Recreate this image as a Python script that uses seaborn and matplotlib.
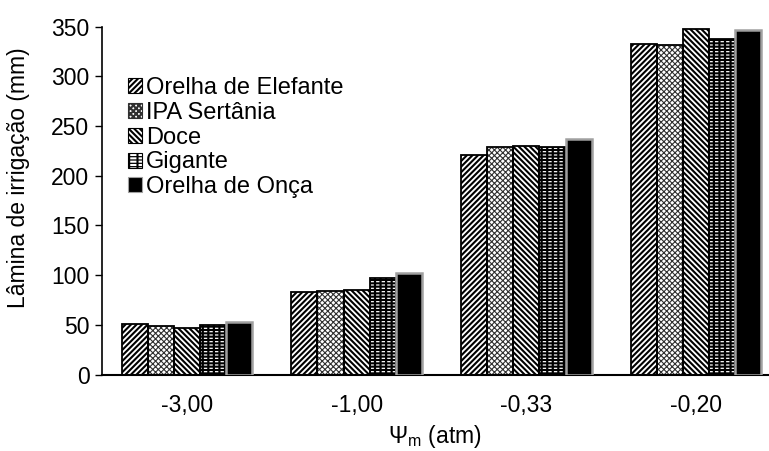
import matplotlib.pyplot as plt
import matplotlib.patches as mpatches
import pandas as pd
import seaborn as sns

# Data
potenciais = ['-3,00', '-1,00', '-0,33', '-0,20']
variedades = ['Orelha de Elefante', 'IPA Sertânia', 'Doce', 'Gigante', 'Orelha de Onça']
orelha_elefante = [50.5, 83, 221, 332.5]
ipa_sertania = [49, 84, 228.5, 331.5]
doce = [47, 85, 230, 347.5]
gigante = [50, 97.5, 229, 337.5]
orelha_onca = [53, 102, 237, 346.5]

valores = [orelha_elefante, ipa_sertania, doce, gigante, orelha_onca]
rows = []
for var, vals in zip(variedades, valores):
    for pot, v in zip(potenciais, vals):
        rows.append({'psi': pot, 'variedade': var, 'lamina': v})
df = pd.DataFrame(rows)

sns.set_style('ticks', {'axes.edgecolor': 'black', 'text.color': 'black',
                        'axes.labelcolor': 'black', 'xtick.color': 'black',
                        'ytick.color': 'black'})
plt.rcParams['font.family'] = ['Liberation Sans', 'DejaVu Sans']
plt.rcParams['hatch.linewidth'] = 1.5

fig = plt.figure(figsize=(7.69, 4.51), dpi=100)
ax = fig.add_axes([102 / 769, 1 - 374.5 / 451, 666 / 769, 348 / 451])

sns.barplot(data=df, x='psi', y='lamina', hue='variedade', order=potenciais,
            hue_order=variedades, width=0.77, gap=0, ax=ax, legend=False,
            errorbar=None, saturation=1)

# per variety: (face, hatch, hatch colour, hatch width, edge colour, edge width)
estilos = [
    ('white', '//////', 'black', 1.5, 'black', 1.3),
    ('white', 'xxxxxx', '#303030', 0.8, 'black', 1.3),
    ('white', '\\\\\\\\\\\\', 'black', 1.5, 'black', 1.3),
    ('black', '-----', 'white', 0.9, 'black', 1.3),
    ('black', None, 'black', 1.0, '#a0a0a0', 1.8),
]

handles = []
for i, (cont, (fc, hatch, hc, hlw, ec, lw)) in enumerate(zip(ax.containers, estilos)):
    for p in cont:
        p.set_facecolor(fc)
        p.set_hatch(hatch)
        p.set_edgecolor(hc)
        p.set_linewidth(0)
        if hasattr(p, 'set_hatch_linewidth'):
            p.set_hatch_linewidth(hlw)
        if variedades[i] == 'Gigante':
            # black vertical hatch breaks the white lines into short dashes
            cut = mpatches.Rectangle(p.get_xy(), p.get_width(), p.get_height(), fill=False,
                                     hatch='|||', edgecolor='black', linewidth=0, zorder=2.5)
            if hasattr(cut, 'set_hatch_linewidth'):
                cut.set_hatch_linewidth(1.6)
            ax.add_patch(cut)
        # outline drawn on top so the hatch colour can differ from the edge
        ax.add_patch(mpatches.Rectangle(p.get_xy(), p.get_width(), p.get_height(),
                                        fill=False, edgecolor=ec, linewidth=lw, zorder=3))
    h = mpatches.Patch(facecolor=fc, hatch=hatch, edgecolor=hc if hatch else ec, linewidth=0.8)
    if variedades[i] == 'Gigante':
        h2 = mpatches.Patch(fill=False, hatch='||', edgecolor='black', linewidth=0.8)
        h = (h, h2)
    handles.append(h)

ax.set_ylim(0, 350)
ax.set_xlim(-0.5, 3.424)
ax.set_yticks(range(0, 351, 50))
ax.tick_params(axis='y', labelsize=16.5, length=5, width=1, direction='out', pad=4)
ax.tick_params(axis='x', labelsize=16.5, length=0, pad=14)
for s in ['top', 'right']:
    ax.spines[s].set_visible(False)
ax.spines['left'].set_linewidth(1.2)
ax.spines['bottom'].set_linewidth(1.5)

ax.set_ylabel('Lâmina de irrigação (mm)', fontsize=16.5)
ax.yaxis.set_label_coords(-0.108, 0.565)
ax.set_xlabel('Ψ$_{\\mathregular{m}}$ (atm)', fontsize=16.5, labelpad=4)

ax.legend(handles, variedades, loc='center left', bbox_to_anchor=(0.039, 0.681),
          frameon=False, fontsize=17, handlelength=0.6, handleheight=0.6,
          handletextpad=0.15, labelspacing=0.12, borderpad=0, borderaxespad=0)

fig.savefig('out.png', dpi=100)
